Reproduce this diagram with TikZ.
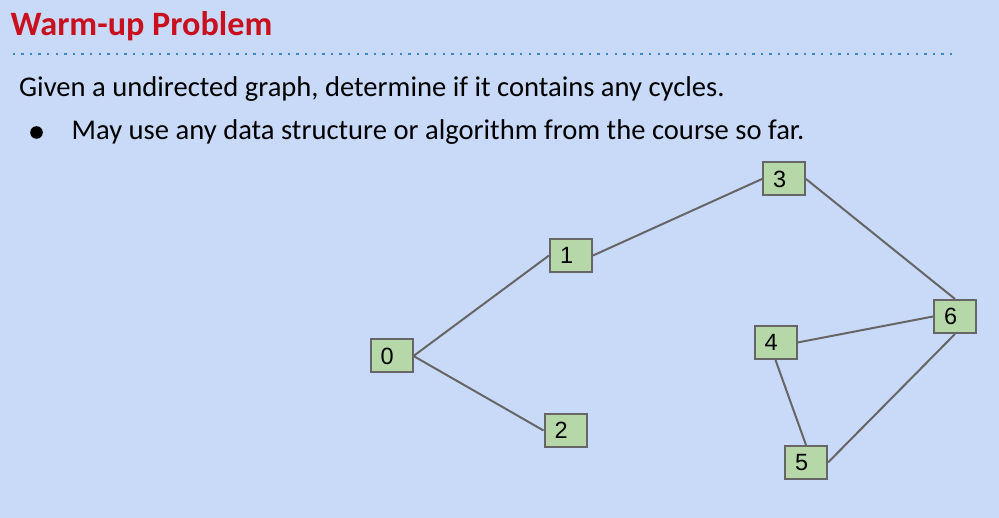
\documentclass[tikz,border=0pt]{standalone}
\usepackage{fontspec}
\setmainfont{Carlito}
\newfontfamily\nodefont{Liberation Sans}
\definecolor{bgblue}{RGB}{201,218,248}
\definecolor{boxgreen}{RGB}{182,215,168}
\definecolor{linegray}{RGB}{102,102,102}
\definecolor{titlered}{RGB}{200,16,30}
\definecolor{dotblue}{RGB}{61,133,198}
\tikzset{
  vbox/.style={draw=linegray, fill=boxgreen, line width=2pt, minimum width=42pt, minimum height=33pt,
    inner xsep=10pt, inner ysep=0pt, text width=22pt, align=left, font=\nodefont\fontsize{23.5pt}{24pt}\selectfont},
  edge/.style={draw=linegray, line width=2pt},
  txt/.style={anchor=base west, inner sep=0pt, font=\fontsize{28.6pt}{30pt}\selectfont}
}
\begin{document}
\begin{tikzpicture}[x=1pt,y=-1pt]
\fill[bgblue] (0,0) rectangle (999,518);
\useasboundingbox (0,0) rectangle (999,518);
\node[anchor=base west, inner sep=0pt, text=titlered, font=\bfseries\fontsize{34.2pt}{36pt}\selectfont] (title) at (10.5,36) {Warm-up Problem};
\coordinate (dl) at (12.5,54.3);
\coordinate (dr) at (958,54.3);
\draw[dotblue, line width=2.4pt, dash pattern=on 2.4pt off 6.2pt] (dl) -- (dr);
\node[txt] (line1) at (19,96.7) {Given a undirected graph, determine if it contains any cycles.};
\fill (36.5,132.5) circle (6.3pt);
\node[txt] (line2) at (71.5,139.2) {May use any data structure or algorithm from the course so far.};
\node[vbox] (n0) at (391.5,356) {0};
\node[vbox] (n1) at (571,255.5) {1};
\node[vbox] (n2) at (565.5,430.5) {2};
\node[vbox] (n3) at (784,179) {3};
\node[vbox] (n4) at (775.5,342.5) {4};
\node[vbox] (n5) at (806,462.5) {5};
\node[vbox] (n6) at (955,316.5) {6};
\draw[edge] (n0.east) -- (n1.west);
\draw[edge] (n0.east) -- (n2.west);
\draw[edge] (n1.east) -- (n3.west);
\draw[edge] (n3.east) -- (n6.north);
\draw[edge] (n4.east) -- (n6.west);
\draw[edge] (n4.south) -- (n5.north);
\draw[edge] (n6.south) -- (n5.east);
\end{tikzpicture}
\end{document}
